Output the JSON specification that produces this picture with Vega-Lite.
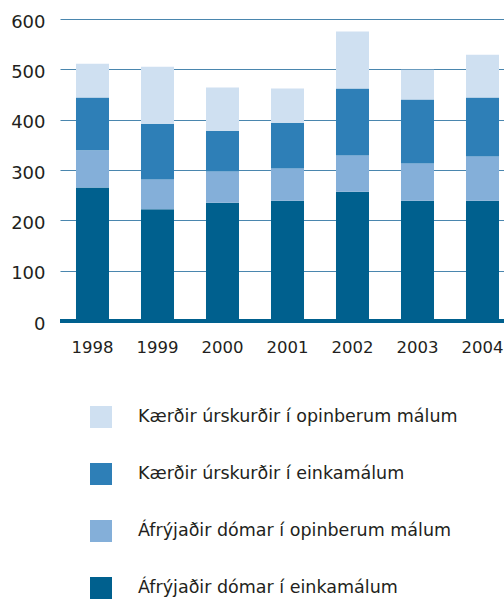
{
  "$schema": "https://vega.github.io/schema/vega-lite/v6.json",
  "autosize": "none",
  "padding": {"left": 60, "top": 19, "right": 0, "bottom": 280},
  "width": 455,
  "height": 302,
  "background": "white",
  "config": {
    "view": {"stroke": null},
    "font": "DejaVu Sans",
    "axis": {"labelFont": "DejaVu Sans", "labelColor": "#231f20", "labelFontSize": 17},
    "legend": {"labelFont": "DejaVu Sans", "labelColor": "#231f20", "labelFontSize": 17}
  },
  "data": {
    "values": [
      {"year": "1998", "series": "Áfrýjaðir dómar í einkamálum", "s": 4, "value": 265},
      {"year": "1998", "series": "Áfrýjaðir dómar í opinberum málum", "s": 3, "value": 74},
      {"year": "1998", "series": "Kærðir úrskurðir í einkamálum", "s": 2, "value": 105},
      {"year": "1998", "series": "Kærðir úrskurðir í opinberum málum", "s": 1, "value": 67},
      {"year": "1999", "series": "Áfrýjaðir dómar í einkamálum", "s": 4, "value": 222},
      {"year": "1999", "series": "Áfrýjaðir dómar í opinberum málum", "s": 3, "value": 59},
      {"year": "1999", "series": "Kærðir úrskurðir í einkamálum", "s": 2, "value": 111},
      {"year": "1999", "series": "Kærðir úrskurðir í opinberum málum", "s": 1, "value": 113},
      {"year": "2000", "series": "Áfrýjaðir dómar í einkamálum", "s": 4, "value": 235},
      {"year": "2000", "series": "Áfrýjaðir dómar í opinberum málum", "s": 3, "value": 62},
      {"year": "2000", "series": "Kærðir úrskurðir í einkamálum", "s": 2, "value": 81},
      {"year": "2000", "series": "Kærðir úrskurðir í opinberum málum", "s": 1, "value": 86},
      {"year": "2001", "series": "Áfrýjaðir dómar í einkamálum", "s": 4, "value": 239},
      {"year": "2001", "series": "Áfrýjaðir dómar í opinberum málum", "s": 3, "value": 64},
      {"year": "2001", "series": "Kærðir úrskurðir í einkamálum", "s": 2, "value": 91},
      {"year": "2001", "series": "Kærðir úrskurðir í opinberum málum", "s": 1, "value": 68},
      {"year": "2002", "series": "Áfrýjaðir dómar í einkamálum", "s": 4, "value": 257},
      {"year": "2002", "series": "Áfrýjaðir dómar í opinberum málum", "s": 3, "value": 72},
      {"year": "2002", "series": "Kærðir úrskurðir í einkamálum", "s": 2, "value": 133},
      {"year": "2002", "series": "Kærðir úrskurðir í opinberum málum", "s": 1, "value": 113},
      {"year": "2003", "series": "Áfrýjaðir dómar í einkamálum", "s": 4, "value": 239},
      {"year": "2003", "series": "Áfrýjaðir dómar í opinberum málum", "s": 3, "value": 74},
      {"year": "2003", "series": "Kærðir úrskurðir í einkamálum", "s": 2, "value": 127},
      {"year": "2003", "series": "Kærðir úrskurðir í opinberum málum", "s": 1, "value": 59},
      {"year": "2004", "series": "Áfrýjaðir dómar í einkamálum", "s": 4, "value": 239},
      {"year": "2004", "series": "Áfrýjaðir dómar í opinberum málum", "s": 3, "value": 88},
      {"year": "2004", "series": "Kærðir úrskurðir í einkamálum", "s": 2, "value": 117},
      {"year": "2004", "series": "Kærðir úrskurðir í opinberum málum", "s": 1, "value": 85}
    ]
  },
  "layer": [
    {
      "mark": {"type": "bar"},
      "encoding": {
        "x": {
          "field": "year", "type": "ordinal",
          "scale": {"paddingInner": 0.492, "paddingOuter": 0.246},
          "axis": {"title": null, "domain": false, "ticks": false, "labelAngle": 0, "labelPadding": 18, "labelFontSize": 16.5}
        },
        "y": {
          "field": "value", "type": "quantitative", "aggregate": "sum",
          "scale": {"domain": [0, 600], "nice": false},
          "axis": {"title": null, "domain": false, "ticks": false, "values": [0, 100, 200, 300, 400, 500, 600], "labelPadding": 15, "labelOffset": 3, "labelFontSize": 18, "gridColor": "#4a86ae", "gridWidth": 1.2, "gridOpacity": 1}
        },
        "color": {
          "field": "series", "type": "nominal",
          "sort": ["Kærðir úrskurðir í opinberum málum", "Kærðir úrskurðir í einkamálum", "Áfrýjaðir dómar í opinberum málum", "Áfrýjaðir dómar í einkamálum"],
          "scale": {
            "domain": ["Kærðir úrskurðir í opinberum málum", "Kærðir úrskurðir í einkamálum", "Áfrýjaðir dómar í opinberum málum", "Áfrýjaðir dómar í einkamálum"],
            "range": ["#cfe0f1", "#2e7fb7", "#84afd9", "#00608e"]
          },
          "legend": {
            "title": null, "orient": "none", "direction": "vertical",
            "legendX": 30, "legendY": 387,
            "symbolType": "square", "symbolSize": 484, "symbolStrokeWidth": 0,
            "rowPadding": 35, "labelOffset": 26, "labelFontSize": 17.5, "labelLimit": 400
          }
        },
        "order": {"field": "s", "sort": "descending"}
      }
    },
    {
      "mark": {"type": "rule", "color": "#00608e", "strokeWidth": 4},
      "encoding": {"y": {"datum": 0}}
    }
  ]
}
